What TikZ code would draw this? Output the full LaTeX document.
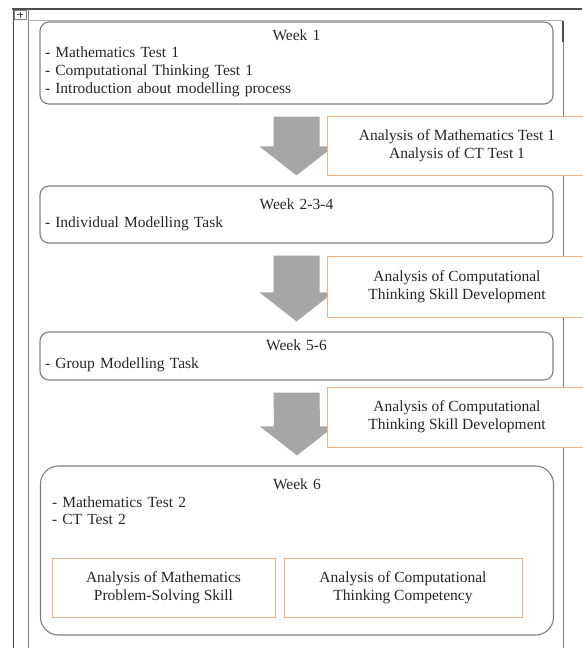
\documentclass[tikz,border=0pt]{standalone}
\usepackage{fontspec}
\setmainfont{Liberation Serif}
\usetikzlibrary{calc, positioning}

\definecolor{boxgray}{HTML}{7F7F7F}
\definecolor{arrowgray}{HTML}{A6A6A6}
\definecolor{peach}{HTML}{F4B183}
\definecolor{framegray}{HTML}{4D4D4D}

\begin{document}
\begin{tikzpicture}[
    x=1pt, y=-1pt,
    every node/.style={
        font=\fontsize{15.5}{17.7}\selectfont,
        text=black!85
    },
    weekbox/.style={
        rectangle,
        rounded corners=9pt,
        draw=boxgray,
        line width=1.1pt,
        text width=503pt,
        inner xsep=5pt,
        inner ysep=0pt
    },
    resultbox/.style={
        rectangle,
        draw=peach,
        fill=white,
        line width=1pt,
        align=center,
        inner sep=0pt
    },
    blockarrow/.style={fill=arrowgray},
    frame/.style={draw=framegray, line width=1pt}
]

\useasboundingbox (0,0) rectangle (582,648);

% table frame
\draw[frame, line width=1.2pt] (12,9) -- (582,9);
\draw[frame] (13,9) -- (13,648);
\draw[boxgray, line width=0.8pt] (28,9) -- (28,648);
\draw[boxgray!60, line width=0.8pt] (28,20.5) -- (563,20.5);
\draw[boxgray, line width=0.8pt] (563,20.5) -- (563,648);
\draw[framegray, line width=2pt] (563,21) -- (563,42);
\draw[boxgray, line width=0.5pt] (14,10) rectangle (26,19);
\draw[black!70, line width=0.6pt] (20,11.5) -- (20,17.5) (17,14.5) -- (23,14.5);

% weeks
\node[weekbox, minimum height=82pt] (w1) at (296.5,63) {
    \centering Week 1\par
    \raggedright - Mathematics Test 1\\
    - Computational Thinking Test 1\\
    - Introduction about modelling process
};

\node[weekbox, minimum height=57pt] (w2) at (296.5,214.5) {
    \centering Week 2-3-4\par
    \raggedright - Individual Modelling Task
};

\node[weekbox, minimum height=48pt] (w3) at (296.5,356) {
    \centering Week 5-6\par
    \raggedright - Group Modelling Task
};

\node[weekbox, rounded corners=18pt, minimum height=169pt] (w6) at (297,550.5) {};

\node[anchor=north, text width=490pt, inner sep=0pt] (w6txt) at ($(w6.north)+(0,13)$) {
    \centering Week 6\par
    \raggedright - Mathematics Test 2\\
    - CT Test 2
};

% block arrows between the weeks
\foreach \a/\b in {w1/w2, w2/w3, w3/w6}
    \fill[blockarrow] ($(\a.south)+(-23,12)$) -- ($(\a.south)+(23,12)$)
        -- ($(\b.north)+(23,-39)$) -- ($(\b.north)+(37,-39)$)
        -- ($(\b.north)+(0,-10)$)
        -- ($(\b.north)+(-37,-39)$) -- ($(\b.north)+(-23,-39)$) -- cycle;

% analyses
\node[resultbox, minimum width=260pt, minimum height=59pt] (res1) at (457,145.5) {
    Analysis of Mathematics Test 1\\
    Analysis of CT Test 1
};

\node[resultbox, minimum width=260pt, minimum height=61pt] (res2) at (457,287) {
    Analysis of Computational\\
    Thinking Skill Development
};

\node[resultbox, minimum width=260pt, minimum height=60pt] (res3) at (457,417) {
    Analysis of Computational\\
    Thinking Skill Development
};

\node[resultbox, minimum width=223pt, minimum height=59pt] (anmath) at (163.5,587.5) {
    Analysis of Mathematics\\
    Problem-Solving Skill
};

\node[resultbox, minimum width=238pt, minimum height=59pt, right=8pt of anmath] (anct) {
    Analysis of Computational\\
    Thinking Competency
};

\end{tikzpicture}
\end{document}
